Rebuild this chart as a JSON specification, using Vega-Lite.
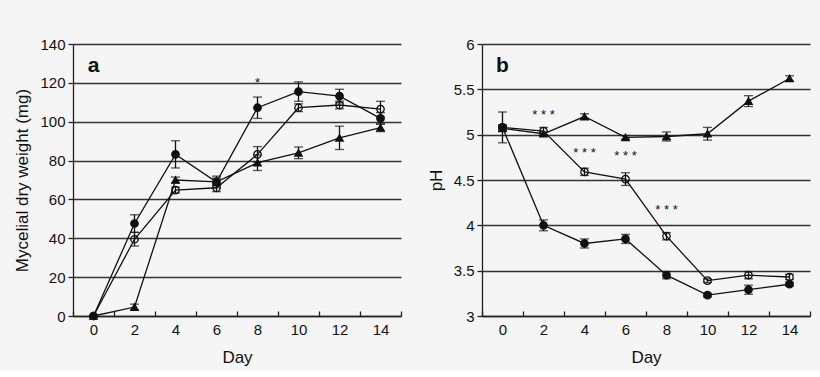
{
  "$schema": "https://vega.github.io/schema/vega-lite/v6.json",
  "padding": {"left": 13, "top": 37, "right": 12, "bottom": 6},
  "background": "#f5f5f5",
  "spacing": 25,
  "config": {
    "font": "Liberation Sans",
    "view": {"stroke": null},
    "axis": {
      "labelFont": "Liberation Sans",
      "titleFont": "Liberation Sans",
      "labelFontSize": 15,
      "titleFontSize": 17,
      "titleFontWeight": "normal",
      "labelColor": "#111",
      "titleColor": "#111",
      "domainColor": "#222",
      "tickColor": "#222",
      "domainWidth": 1.3,
      "tickWidth": 1.3,
      "labelOverlap": false
    }
  },
  "datasets": {
    "wt": [
      {"series": "A", "day": 0, "val": 0, "err": 0},
      {"series": "A", "day": 2, "val": 47.6, "err": 4.5},
      {"series": "A", "day": 4, "val": 83.2, "err": 7},
      {"series": "A", "day": 6, "val": 69, "err": 3},
      {"series": "A", "day": 8, "val": 107.2, "err": 5.5},
      {"series": "A", "day": 10, "val": 115.5, "err": 5},
      {"series": "A", "day": 12, "val": 113.2, "err": 3.5},
      {"series": "A", "day": 14, "val": 101.7, "err": 3},
      {"series": "B", "day": 0, "val": 0, "err": 0},
      {"series": "B", "day": 2, "val": 39.5, "err": 3.5},
      {"series": "B", "day": 4, "val": 64.8, "err": 1.5},
      {"series": "B", "day": 6, "val": 66, "err": 2},
      {"series": "B", "day": 8, "val": 83.2, "err": 4},
      {"series": "B", "day": 10, "val": 107.2, "err": 2},
      {"series": "B", "day": 12, "val": 108.6, "err": 2},
      {"series": "B", "day": 14, "val": 106.5, "err": 4},
      {"series": "C", "day": 0, "val": 0, "err": 0},
      {"series": "C", "day": 2, "val": 4.6, "err": 1.5},
      {"series": "C", "day": 4, "val": 70, "err": 1.5},
      {"series": "C", "day": 6, "val": 69, "err": 2},
      {"series": "C", "day": 8, "val": 78.9, "err": 4},
      {"series": "C", "day": 10, "val": 84, "err": 3},
      {"series": "C", "day": 12, "val": 91.7, "err": 6},
      {"series": "C", "day": 14, "val": 96.9, "err": 2}
    ],
    "ph": [
      {"series": "A", "day": 0, "val": 5.08, "err": 0.03},
      {"series": "A", "day": 2, "val": 4.0, "err": 0.06},
      {"series": "A", "day": 4, "val": 3.8, "err": 0.05},
      {"series": "A", "day": 6, "val": 3.85, "err": 0.05},
      {"series": "A", "day": 8, "val": 3.45, "err": 0.04},
      {"series": "A", "day": 10, "val": 3.23, "err": 0.02},
      {"series": "A", "day": 12, "val": 3.29, "err": 0.05},
      {"series": "A", "day": 14, "val": 3.35, "err": 0.02},
      {"series": "B", "day": 0, "val": 5.08, "err": 0.17},
      {"series": "B", "day": 2, "val": 5.04, "err": 0.04},
      {"series": "B", "day": 4, "val": 4.59, "err": 0.04},
      {"series": "B", "day": 6, "val": 4.51, "err": 0.07},
      {"series": "B", "day": 8, "val": 3.88, "err": 0.04},
      {"series": "B", "day": 10, "val": 3.39, "err": 0.02},
      {"series": "B", "day": 12, "val": 3.45, "err": 0.04},
      {"series": "B", "day": 14, "val": 3.43, "err": 0.03},
      {"series": "C", "day": 0, "val": 5.07, "err": 0.03},
      {"series": "C", "day": 2, "val": 5.01, "err": 0.02},
      {"series": "C", "day": 4, "val": 5.2, "err": 0.03},
      {"series": "C", "day": 6, "val": 4.97, "err": 0.02},
      {"series": "C", "day": 8, "val": 4.98, "err": 0.05},
      {"series": "C", "day": 10, "val": 5.01, "err": 0.07},
      {"series": "C", "day": 12, "val": 5.37, "err": 0.06},
      {"series": "C", "day": 14, "val": 5.62, "err": 0.03}
    ],
    "wtStars": [
      {"day": 8, "val": 120, "txt": "*"}
    ],
    "wtLabel": [
      {"day": 0, "val": 128.5, "txt": "a"}
    ],
    "phStars": [
      {"day": 2, "val": 5.22, "txt": "* * *"},
      {"day": 4, "val": 4.8, "txt": "* * *"},
      {"day": 6, "val": 4.77, "txt": "* * *"},
      {"day": 8, "val": 4.17, "txt": "* * *"}
    ],
    "phLabel": [
      {"day": 0, "val": 5.76, "txt": "b"}
    ]
  },
  "hconcat": [
    {
      "width": 328,
      "height": 272,
      "encoding": {
        "x": {"field": "day", "type": "ordinal", "sort": [0, 2, 4, 6, 8, 10, 12, 14], "scale": {"type": "band", "paddingInner": 0, "paddingOuter": 0},
          "axis": {"title": "Day", "labelAngle": 0, "tickBand": "extent", "tickSize": -5, "labelPadding": 11, "titlePadding": 12, "grid": false}},
        "y": {"field": "val", "type": "quantitative", "title": "Mycelial dry weight (mg)", "scale": {"domain": [0, 140], "nice": false},
          "axis": {"values": [0, 20, 40, 60, 80, 100, 120, 140], "grid": true, "gridColor": "#333", "gridWidth": 1.3, "tickSize": 5, "labelPadding": 3, "titlePadding": 8}}
      },
      "layer": [
        {
          "data": {"name": "wt"},
          "mark": {"type": "line", "color": "#111", "strokeWidth": 1.3},
          "encoding": {"detail": {"field": "series"}}
        },
        {
          "data": {"name": "wt"},
          "mark": {"type": "errorbar", "ticks": {"size": 9, "color": "#111"}, "rule": {"color": "#111"}, "thickness": 1.3},
          "encoding": {"yError": {"field": "err"}}
        },
        {
          "data": {"name": "wt"},
          "mark": {"type": "point", "size": 55, "strokeWidth": 1.3, "opacity": 1, "stroke": "#111"},
          "encoding": {
            "shape": {"field": "series", "type": "nominal", "scale": {"domain": ["A", "B", "C"], "range": ["circle", "circle", "triangle-up"]}, "legend": null},
            "fill": {"field": "series", "type": "nominal", "scale": {"domain": ["A", "B", "C"], "range": ["#111", "transparent", "#111"]}, "legend": null}
          }
        },
        {
          "data": {"name": "wtStars"},
          "mark": {"type": "text", "align": "center", "baseline": "middle", "color": "#111", "fontSize": 13},
          "encoding": {"text": {"field": "txt"}}
        },
        {
          "data": {"name": "wtLabel"},
          "mark": {"type": "text", "align": "center", "baseline": "middle", "color": "#111", "fontSize": 21, "fontWeight": "bold"},
          "encoding": {"text": {"field": "txt"}}
        }
      ]
    },
    {
      "width": 328,
      "height": 272,
      "encoding": {
        "x": {"field": "day", "type": "ordinal", "sort": [0, 2, 4, 6, 8, 10, 12, 14], "scale": {"type": "band", "paddingInner": 0, "paddingOuter": 0},
          "axis": {"title": "Day", "labelAngle": 0, "tickBand": "extent", "tickSize": -5, "labelPadding": 11, "titlePadding": 12, "grid": false}},
        "y": {"field": "val", "type": "quantitative", "title": "pH", "scale": {"domain": [3, 6], "nice": false, "zero": false},
          "axis": {"values": [3, 3.5, 4, 4.5, 5, 5.5, 6], "format": "~g", "grid": true, "gridColor": "#333", "gridWidth": 1.3, "tickSize": 5, "labelPadding": 3, "titlePadding": 8}}
      },
      "layer": [
        {
          "data": {"name": "ph"},
          "mark": {"type": "line", "color": "#111", "strokeWidth": 1.3},
          "encoding": {"detail": {"field": "series"}}
        },
        {
          "data": {"name": "ph"},
          "mark": {"type": "errorbar", "ticks": {"size": 9, "color": "#111"}, "rule": {"color": "#111"}, "thickness": 1.3},
          "encoding": {"yError": {"field": "err"}}
        },
        {
          "data": {"name": "ph"},
          "mark": {"type": "point", "size": 55, "strokeWidth": 1.3, "opacity": 1, "stroke": "#111"},
          "encoding": {
            "shape": {"field": "series", "type": "nominal", "scale": {"domain": ["A", "B", "C"], "range": ["circle", "circle", "triangle-up"]}, "legend": null},
            "fill": {"field": "series", "type": "nominal", "scale": {"domain": ["A", "B", "C"], "range": ["#111", "transparent", "#111"]}, "legend": null}
          }
        },
        {
          "data": {"name": "phStars"},
          "mark": {"type": "text", "align": "center", "baseline": "middle", "color": "#111", "fontSize": 13},
          "encoding": {"text": {"field": "txt"}}
        },
        {
          "data": {"name": "phLabel"},
          "mark": {"type": "text", "align": "center", "baseline": "middle", "color": "#111", "fontSize": 21, "fontWeight": "bold"},
          "encoding": {"text": {"field": "txt"}}
        }
      ]
    }
  ]
}
